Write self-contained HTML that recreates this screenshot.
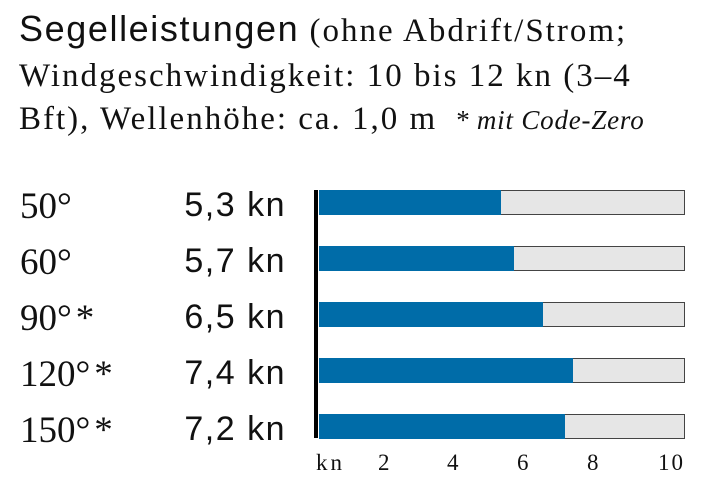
<!DOCTYPE html>
<html><head><meta charset="utf-8"><style>
body{margin:0;width:712px;height:481px;background:#fff;position:relative;overflow:hidden;color:#111}
.t{position:absolute;left:19px;white-space:nowrap;font-family:"Liberation Serif",serif;font-size:33px;letter-spacing:2px;line-height:40px}
.s{font-family:"Liberation Sans",sans-serif;font-size:36px;letter-spacing:1.6px}
.lab{position:absolute;left:20px;font-family:"Liberation Serif",serif;font-size:37px;line-height:40px}
.val{position:absolute;right:426px;font-family:"Liberation Sans",sans-serif;font-size:34px;line-height:40px;letter-spacing:1.5px}
.bar{position:absolute;left:319px;width:365px;height:23px;background:#e6e6e6;border:1px solid #444;border-left:none}
.bar i{position:absolute;left:0;top:-1px;height:25px;background:#006ca8}
.tk{position:absolute;top:450px;font-family:"Liberation Serif",serif;font-size:23px}
</style></head><body>
<div class="t" style="top:9px"><span class="s">Segelleistungen</span> (ohne Abdrift/Strom;</div>
<div class="t" style="top:56px">Windgeschwindigkeit: 10 bis 12 kn (3–4</div>
<div class="t" style="top:99px">Bft), Wellenhöhe: ca. 1,0 m <i style="font-size:27px;letter-spacing:0.8px">&nbsp;* mit Code-Zero</i></div>
<div style="position:absolute;left:314px;top:190px;width:4px;height:248px;background:#000"></div>

<div class="lab" style="top:187px">50°</div><div class="val" style="top:185px">5,3 kn</div>
<div class="bar" style="top:190px"><i style="width:182px"></i></div>
<div class="lab" style="top:243px">60°</div><div class="val" style="top:241px">5,7 kn</div>
<div class="bar" style="top:246px"><i style="width:195px"></i></div>
<div class="lab" style="top:299px">90°<span style="margin-left:4px">*</span></div><div class="val" style="top:297px">6,5 kn</div>
<div class="bar" style="top:302px"><i style="width:224px"></i></div>
<div class="lab" style="top:355px">120°<span style="margin-left:4px">*</span></div><div class="val" style="top:353px">7,4 kn</div>
<div class="bar" style="top:358px"><i style="width:254px"></i></div>
<div class="lab" style="top:411px">150°<span style="margin-left:4px">*</span></div><div class="val" style="top:409px">7,2 kn</div>
<div class="bar" style="top:414px"><i style="width:246px"></i></div>

<div class="tk" style="left:316px;letter-spacing:3px">kn</div>
<div class="tk" style="left:378px">2</div>
<div class="tk" style="left:447px">4</div>
<div class="tk" style="left:517px">6</div>
<div class="tk" style="left:587px">8</div>
<div class="tk" style="left:658px;letter-spacing:2px">10</div>
</body></html>
